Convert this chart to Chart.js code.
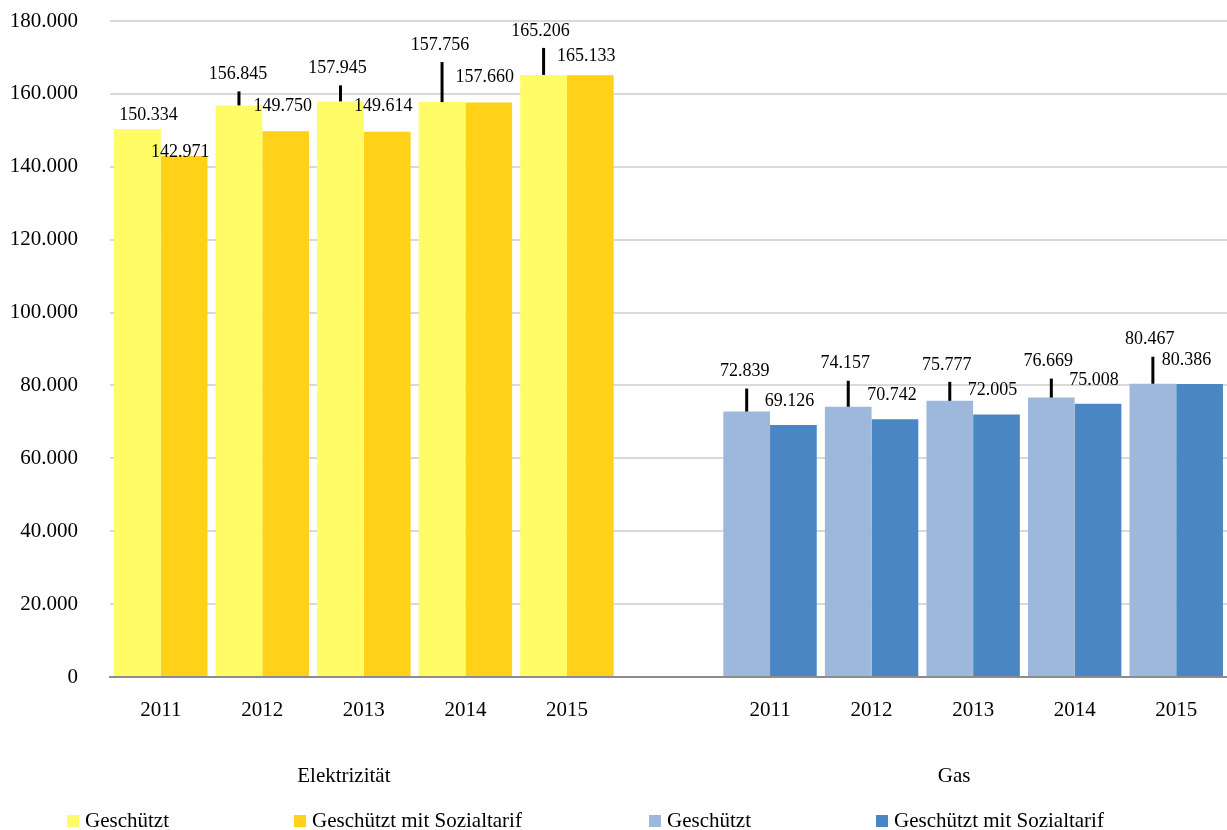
<!DOCTYPE html>
<html lang="de">
<head>
<meta charset="utf-8">
<title>Geschützte Kunden – Elektrizität und Gas</title>
<script src="https://cdn.jsdelivr.net/npm/chart.js@4.4.1/dist/chart.umd.min.js"></script>
<style>
  html, body { margin: 0; padding: 0; background: #ffffff; }
  #wrap { width: 1227px; height: 830px; }
</style>
</head>
<body>
<div id="wrap"><canvas id="chart" width="1227" height="830"></canvas></div>
<script>
// ---- Daten ----
const years = ['2011', '2012', '2013', '2014', '2015'];
const groupNames = ['Elektrizität', 'Gas'];
const seriesNames = ['Geschützt', 'Geschützt mit Sozialtarif'];

const elekGeschuetzt = [150334, 156845, 157945, 157756, 165206];
const elekSozialtarif = [142971, 149750, 149614, 157660, 165133];
const gasGeschuetzt = [72839, 74157, 75777, 76669, 80467];
const gasSozialtarif = [69126, 70742, 72005, 75008, 80386];

const yMax = 180000;
const yStep = 20000;

// ---- Darstellung ----
const FONT = '"Liberation Serif", "Times New Roman", serif';
const colors = {
  elekG: '#FFFC66',
  elekS: '#FFD219',
  gasG: '#9DB8DA',
  gasS: '#4A86C4'
};

// Beschriftungsplatzierung: Abstand über dem Balken (px) und seitliche Verschiebung (px)
const labelLift = [
  [14, 31, 33, 57, 44],
  [4, 25, 25, 25, 19],
  [40, 43, 36, 36, 44],
  [24, 24, 24, 23, 24]
];
const labelShift = [
  [11, -1, -3, -2, -3],
  [-4, -3, -4, -4, -4],
  [-2, -3, -3, -3, -3],
  [-4, -3, -4, -4, -13]
];
const LEADER_MIN_LIFT = 28;

// Kategorien: fünf Jahre Elektrizität, eine Lücke, fünf Jahre Gas
const gap = [''];
const categories = years.concat(gap, years);
const blank = years.map(() => null).concat([null]);
const leftSeries = arr => arr.concat(blank);
const rightSeries = arr => blank.concat(arr);

function fmt(v) {
  const s = Math.round(v).toString();
  return s.replace(/\B(?=(\d{3})+(?!\d))/g, '.');
}

const datasets = [
  { label: seriesNames[0], data: leftSeries(elekGeschuetzt), backgroundColor: colors.elekG },
  { label: seriesNames[1], data: leftSeries(elekSozialtarif), backgroundColor: colors.elekS },
  { label: seriesNames[0], data: rightSeries(gasGeschuetzt), backgroundColor: colors.gasG },
  { label: seriesNames[1], data: rightSeries(gasSozialtarif), backgroundColor: colors.gasS }
].map(d => Object.assign(d, {
  borderWidth: 0,
  skipNull: true,
  categoryPercentage: 0.92,
  barPercentage: 1.0
}));

// Beschriftung der Werteachse, rechtsbündig links vom Diagramm
const yAxisLabels = {
  id: 'yAxisLabels',
  afterDraw(chart) {
    const y = chart.scales.y;
    const ctx = chart.ctx;
    ctx.save();
    ctx.font = '21px ' + FONT;
    ctx.fillStyle = '#000';
    ctx.textAlign = 'right';
    ctx.textBaseline = 'middle';
    y.ticks.forEach(t => {
      ctx.fillText(fmt(t.value), y.right - 32, y.getPixelForValue(t.value));
    });
    ctx.restore();
  }
};

// Wertbeschriftungen mit Führungslinien
const valueLabels = {
  id: 'valueLabels',
  afterDatasetsDraw(chart) {
    const ctx = chart.ctx;
    ctx.save();
    ctx.font = '18px ' + FONT;
    ctx.textAlign = 'center';
    ctx.textBaseline = 'middle';
    chart.data.datasets.forEach((ds, di) => {
      const meta = chart.getDatasetMeta(di);
      let k = 0;
      meta.data.forEach((bar, i) => {
        const v = ds.data[i];
        if (v === null || v === undefined) return;
        const cx = bar.x;
        const top = bar.y;
        const lift = labelLift[di][k];
        const ly = top - lift;
        const lx = cx + labelShift[di][k];
        if (lift > LEADER_MIN_LIFT) {
          ctx.strokeStyle = '#000';
          ctx.lineWidth = 3;
          ctx.beginPath();
          ctx.moveTo(cx, ly + 17);
          ctx.lineTo(cx, top);
          ctx.stroke();
        }
        ctx.fillStyle = '#000';
        ctx.fillText(fmt(v), lx, ly);
        k++;
      });
    });
    ctx.restore();
  }
};

// Gruppenbeschriftung und Legende unter der Achse
const groupAndLegend = {
  id: 'groupAndLegend',
  afterDraw(chart) {
    const ctx = chart.ctx;
    const x = chart.scales.x;
    ctx.save();
    ctx.fillStyle = '#000';
    ctx.font = '21px ' + FONT;
    ctx.textAlign = 'center';
    ctx.textBaseline = 'middle';
    const n = years.length;
    const g1 = (x.getPixelForValue(0) + x.getPixelForValue(n - 1)) / 2 - 20;
    const g2 = (x.getPixelForValue(n + 1) + x.getPixelForValue(2 * n)) / 2 - 19;
    ctx.fillText(groupNames[0], g1, 776);
    ctx.fillText(groupNames[1], g2, 776);

    const legendX = [67, 294, 649, 876];
    ctx.textAlign = 'left';
    chart.data.datasets.forEach((ds, i) => {
      ctx.fillStyle = ds.backgroundColor;
      ctx.fillRect(legendX[i], 815, 12, 12);
      ctx.fillStyle = '#000';
      ctx.fillText(ds.label, legendX[i] + 18, 821);
    });
    ctx.restore();
  }
};

new Chart(document.getElementById('chart'), {
  type: 'bar',
  data: { labels: categories, datasets },
  plugins: [yAxisLabels, valueLabels, groupAndLegend],
  options: {
    responsive: false,
    devicePixelRatio: 1,
    animation: false,
    layout: { padding: { top: 21, right: 0, left: 0, bottom: 0 } },
    plugins: {
      legend: { display: false },
      tooltip: { enabled: false }
    },
    scales: {
      x: {
        offset: true,
        grid: { display: false, drawTicks: false },
        border: { display: true, color: '#8c8c8c', width: 2 },
        ticks: {
          color: '#000',
          font: { family: FONT, size: 21 },
          padding: 21,
          maxRotation: 0,
          autoSkip: false
        },
        afterFit(scale) { scale.height = 153; }
      },
      y: {
        min: 0,
        max: yMax,
        border: { display: false },
        grid: {
          drawTicks: false,
          lineWidth: 2,
          color: ctx => (ctx.tick && ctx.tick.value === 0) ? 'rgba(0,0,0,0)' : '#d9d9d9'
        },
        ticks: {
          display: false,
          stepSize: yStep
        },
        afterFit(scale) { scale.width = 110; }
      }
    }
  }
});
</script>
</body>
</html>
